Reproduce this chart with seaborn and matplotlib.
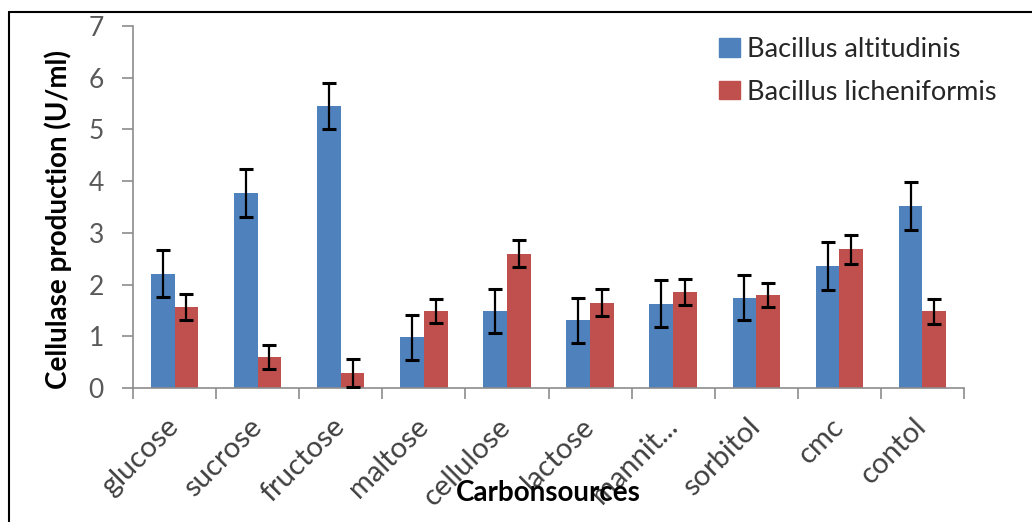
import numpy as np
import pandas as pd
import matplotlib
matplotlib.use("Agg")
import matplotlib.pyplot as plt
import matplotlib.transforms as mtransforms
import seaborn as sns
from matplotlib.lines import Line2D

categories = ["glucose", "sucrose", "fructose", "maltose", "cellulose",
              "lactose", "mannit...", "sorbitol", "cmc", "contol"]
series_names = ["Bacillus altitudinis", "Bacillus licheniformis"]
altitudinis = [2.21, 3.77, 5.45, 0.98, 1.49, 1.31, 1.63, 1.75, 2.36, 3.52]
altitudinis_err = [0.45, 0.46, 0.45, 0.43, 0.43, 0.44, 0.46, 0.44, 0.47, 0.46]
licheniformis = [1.57, 0.60, 0.29, 1.49, 2.60, 1.65, 1.85, 1.80, 2.68, 1.48]
licheniformis_err = [0.25, 0.23, 0.27, 0.24, 0.26, 0.26, 0.25, 0.23, 0.28, 0.25]
yticks = [0, 1, 2, 3, 4, 5, 6, 7]
colors = ["#4F81BD", "#C0504D"]

sns.set_theme(style="white")
plt.rcParams["font.family"] = ["Lato", "DejaVu Sans"]

df = pd.DataFrame({
    "source": categories * 2,
    "strain": [series_names[0]] * len(categories) + [series_names[1]] * len(categories),
    "value": altitudinis + licheniformis,
})

W, H = 1032, 522
fig = plt.figure(figsize=(W / 100, H / 100), dpi=100)
ax = fig.add_axes([133 / W, 1 - 388 / H, (964 - 133) / W, (388 - 26) / H])

sns.barplot(data=df, x="source", y="value", hue="strain", order=categories,
            hue_order=series_names, palette=colors, width=0.57, gap=0,
            errorbar=None, saturation=1, linewidth=0, ax=ax, legend=False)

errs = [altitudinis_err, licheniformis_err]
for cont, err in zip(ax.containers, errs):
    xs = [p.get_x() + p.get_width() / 2 for p in cont.patches]
    ys = [p.get_height() for p in cont.patches]
    ax.errorbar(xs, ys, yerr=err, fmt="none", ecolor="black", elinewidth=1.6,
                capsize=5, capthick=2.2, zorder=5)

ax.set_xlim(-0.5, len(categories) - 0.5)
ax.set_ylim(0, 7)
ax.set_yticks(yticks)
ax.set_yticklabels([str(t) for t in yticks])

ax.set_xticks(np.arange(-0.5, len(categories), 1.0))
ax.set_xticklabels([])
ax.set_xticks(np.arange(len(categories)), minor=True)
ax.set_xticklabels(categories, minor=True, rotation=45, ha="right",
                   rotation_mode="anchor", va="center")
shift = mtransforms.ScaledTranslation(4 / 100, 0, fig.dpi_scale_trans)
for lab in ax.get_xticklabels(minor=True):
    lab.set_transform(lab.get_transform() + shift)

axis_color = "#8C8C8C"
for s in ["top", "right"]:
    ax.spines[s].set_visible(False)
for s in ["left", "bottom"]:
    ax.spines[s].set_color(axis_color)
    ax.spines[s].set_linewidth(1.2)

ax.tick_params(axis="y", which="major", direction="out", length=8, width=1.2,
               color=axis_color, labelsize=19, labelcolor="#595959", pad=13, left=True)
ax.tick_params(axis="x", which="major", direction="out", length=8, width=1.2,
               color=axis_color, bottom=True)
ax.tick_params(axis="x", which="minor", length=0, labelsize=21,
               labelcolor="#404040", pad=25, bottom=True)

ax.set_xlabel("Carbonsources", fontsize=20, fontweight="bold", color="black")
ax.xaxis.set_label_coords(0.5, -0.255)
ax.set_ylabel("Cellulase production (U/ml)", fontsize=20, fontweight="bold", color="black")
ax.yaxis.set_label_coords(-0.073, 0.465)

ax.grid(False)

handles = [plt.Rectangle((0, 0), 1, 1, color=c) for c in colors]
ax.legend(handles, series_names, loc="upper left",
          bbox_to_anchor=(719 / W, 1 - 37 / H), bbox_transform=fig.transFigure,
          frameon=False, fontsize=19.5, handlelength=0.78, handleheight=0.65,
          handletextpad=0.25, labelspacing=0.65, borderpad=0, borderaxespad=0,
          labelcolor="#262626")

# outer frame (top and left edges visible)
fig.add_artist(Line2D([9 / W, 1.0], [1 - 12 / H, 1 - 12 / H], color="black",
                      lw=1.5, transform=fig.transFigure))
fig.add_artist(Line2D([9 / W, 9 / W], [1 - 12 / H, 0.0], color="black",
                      lw=1.5, transform=fig.transFigure))

fig.savefig("out.png", dpi=100)
